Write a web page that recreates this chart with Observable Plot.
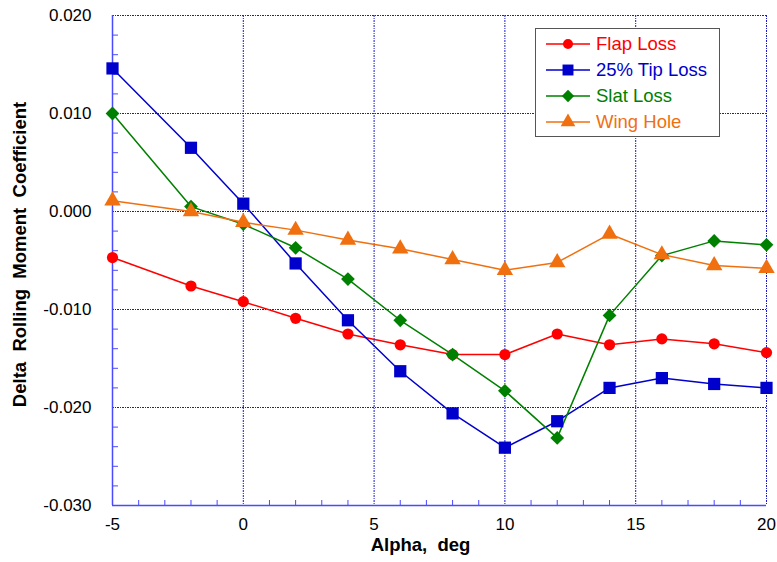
<!DOCTYPE html>
<html>
<head>
<meta charset="utf-8">
<script src="https://cdn.jsdelivr.net/npm/d3@7"></script>
<script src="https://cdn.jsdelivr.net/npm/@observablehq/plot@0.6"></script>
<style>
  body { margin: 0; background: #fff; }
  #wrap { position: relative; width: 777px; height: 562px; font-family: "Liberation Sans", Arial, sans-serif; }
  #legend { position: absolute; left: 535px; top: 28px; width: 185px; height: 109px; border: 1.5px solid #555; background: #fff; box-sizing: border-box; padding-top: 2px; }
  .row { display: flex; align-items: center; height: 26px; }
  .row svg { margin-left: 8px; margin-right: 4px; }
  .row span { font-size: 18.5px; white-space: pre; }
</style>
</head>
<body>
<div id="wrap"><div id="legend"></div></div>
<script>
const alpha = [-5, -2, 0, 2, 4, 6, 8, 10, 12, 14, 16, 18, 20];
const flapLoss = [-0.0047, -0.0076, -0.0092, -0.0109, -0.0125, -0.0136, -0.0146, -0.0146, -0.0125, -0.0136, -0.0130, -0.0135, -0.0144];
const tipLoss  = [0.0146, 0.0065, 0.0008, -0.0053, -0.0111, -0.0163, -0.0206, -0.0241, -0.0214, -0.0180, -0.0170, -0.0176, -0.0180];
const slatLoss = [0.0100, 0.0005, -0.0013, -0.0037, -0.0069, -0.0111, -0.0146, -0.0183, -0.0231, -0.0106, -0.0045, -0.0030, -0.0034];
const wingHole = [0.0011, 0.0000, -0.0011, -0.0019, -0.0029, -0.0038, -0.0049, -0.0060, -0.0052, -0.0023, -0.0044, -0.0055, -0.0058];

const seriesNames = ["Flap Loss", "25% Tip Loss", "Slat Loss", "Wing Hole"];
const seriesValues = [flapLoss, tipLoss, slatLoss, wingHole];
const seriesColors = ["#ff0000", "#0000cc", "#008000", "#f0700f"];
const seriesSymbols = ["circle", "square", "diamond2", "triangle"];
const seriesR = [5.6, 6.9, 6.2, 6.1];

const xMajor = [-5, 0, 5, 10, 15, 20];
const xMinor = d3.range(-4, 20).filter(d => d % 5 !== 0);
const yMajor = [-0.03, -0.02, -0.01, 0, 0.01, 0.02];
const yMinor = d3.range(-14, 10).map(d => d * 0.002).filter(d => Math.abs(Math.round(d * 1000)) % 10 !== 0);

const xLabel = "Alpha,  deg";
const yLabel = "Delta  Rolling  Moment  Coefficient";

const rows = [];
seriesNames.forEach((name, s) => {
  alpha.forEach((a, i) => rows.push({series: name, alpha: a, value: seriesValues[s][i], s}));
});

const gridColor = "#1a1acc";
const axisColor = "#4a4aff";
const font = "'Liberation Sans', Arial, sans-serif";

const marks = [
  Plot.ruleX(xMajor, {x: d => d, stroke: gridColor, strokeWidth: 1, strokeDasharray: "2,1,1,1"}),
  Plot.ruleY(yMajor, {y: d => d, stroke: gridColor, strokeWidth: 1, strokeDasharray: "2,1,1,1"}),
  Plot.ruleX([-5], {x: d => d, stroke: axisColor, strokeWidth: 1.5}),
  Plot.ruleY([-0.03], {y: d => d, stroke: axisColor, strokeWidth: 1.5}),
  Plot.tickX(xMinor, {x: d => d, insetTop: 485, stroke: axisColor, strokeWidth: 1}),
  Plot.tickY(yMinor, {y: d => d, insetRight: 648, stroke: axisColor, strokeWidth: 1}),
];
seriesNames.forEach((name, s) => {
  const data = rows.filter(r => r.s === s);
  marks.push(Plot.line(data, {x: "alpha", y: "value", stroke: seriesColors[s], strokeWidth: 1.5}));
});
seriesNames.forEach((name, s) => {
  const data = rows.filter(r => r.s === s);
  marks.push(Plot.dot(data, {x: "alpha", y: "value", fill: seriesColors[s], stroke: "none", symbol: seriesSymbols[s], r: seriesR[s]}));
});
marks.push(
  Plot.axisX({ticks: xMajor, tickSize: 0, tickPadding: 12, tickFormat: d => String(d), fontSize: 17, label: null}),
  Plot.axisY({ticks: yMajor, tickSize: 0, tickPadding: 21, tickFormat: d => d.toFixed(3), fontSize: 17, label: null}),
  Plot.text([yLabel], {text: d => d, frameAnchor: "left", textAnchor: "middle", dx: -92, dy: -6, rotate: -90, fontSize: 18.5, fontWeight: "bold", fill: "#000"}),
  Plot.text([xLabel], {text: d => d, frameAnchor: "bottom", textAnchor: "middle", dx: -19, dy: 45, fontSize: 18.5, fontWeight: "bold", fill: "#000"})
);

const chart = Plot.plot({
  width: 777,
  height: 562,
  marginLeft: 112,
  marginRight: 11,
  marginTop: 15,
  marginBottom: 57,
  x: {domain: [-5, 20]},
  y: {domain: [-0.03, 0.02]},
  style: {fontFamily: font, fontSize: "17px", color: "#000", background: "#fff", overflow: "visible"},
  marks
});
document.getElementById("wrap").prepend(chart);

const legend = document.getElementById("legend");
seriesNames.forEach((name, s) => {
  const row = document.createElement("div");
  row.className = "row";
  const sym = d3.symbol(
    {circle: d3.symbolCircle, square: d3.symbolSquare, diamond2: d3.symbolDiamond2, triangle: d3.symbolTriangle}[seriesSymbols[s]],
    Math.PI * seriesR[s] * seriesR[s] * 0.8
  )();
  row.innerHTML = `<svg width="48" height="20"><line x1="2" x2="46" y1="10" y2="10" stroke="${seriesColors[s]}" stroke-width="1.4"/><path d="${sym}" transform="translate(24,10)" fill="${seriesColors[s]}"/></svg><span style="color:${seriesColors[s]}">${name}</span>`;
  legend.appendChild(row);
});
</script>
</body>
</html>
